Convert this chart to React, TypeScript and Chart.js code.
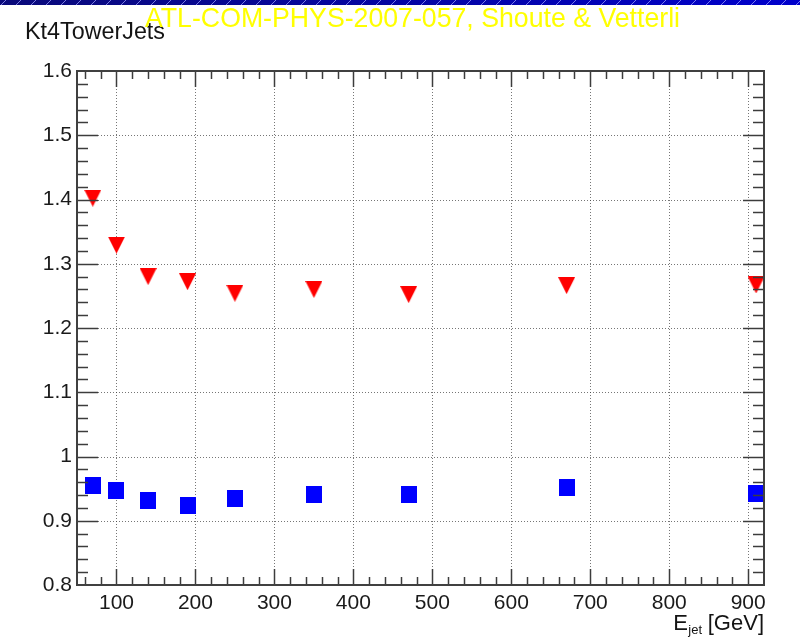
import { useEffect, useRef } from "react";
import { Chart, registerables } from "chart.js";

Chart.register(...registerables);

// Jet energy (GeV) and response for the two samples
const energies = [70, 100, 140, 190, 250, 350, 470, 670, 910];
const responseRed = [1.402, 1.329, 1.28, 1.272, 1.254, 1.26, 1.252, 1.266, 1.267];
const responseBlue = [0.955, 0.947, 0.932, 0.923, 0.935, 0.941, 0.941, 0.951, 0.942];

const xRange = [50, 920];
const yRange = [0.8, 1.6];
const xTickValues = [100, 200, 300, 400, 500, 600, 700, 800, 900];
const xTickLabels = ["100", "200", "300", "400", "500", "600", "700", "800", "900"];
const yTickValues = [0.8, 0.9, 1.0, 1.1, 1.2, 1.3, 1.4, 1.5, 1.6];
const yTickLabels = ["0.8", "0.9", "1", "1.1", "1.2", "1.3", "1.4", "1.5", "1.6"];

const titleText = "ATL-COM-PHYS-2007-057, Shoute & Vetterli";
const collectionText = "Kt4TowerJets";

const FONT = "'Liberation Sans', Arial, Helvetica, sans-serif";

function makeTriangleDown(w: number, h: number, color: string) {
  const c = document.createElement("canvas");
  c.width = w;
  c.height = h;
  const g = c.getContext("2d")!;
  g.fillStyle = color;
  g.beginPath();
  g.moveTo(0, 0);
  g.lineTo(w, 0);
  g.lineTo(w / 2, h);
  g.closePath();
  g.fill();
  return c;
}

function makeSquare(w: number, h: number, color: string) {
  const c = document.createElement("canvas");
  c.width = w;
  c.height = h;
  const g = c.getContext("2d")!;
  g.fillStyle = color;
  g.fillRect(0, 0, w, h);
  return c;
}

function line(ctx: CanvasRenderingContext2D, x1: number, y1: number, x2: number, y2: number) {
  ctx.beginPath();
  ctx.moveTo(x1, y1);
  ctx.lineTo(x2, y2);
  ctx.stroke();
}

function fitText(ctx: CanvasRenderingContext2D, text: string, x: number, y: number, width: number) {
  const w = ctx.measureText(text).width;
  ctx.save();
  ctx.translate(x, y);
  ctx.scale(width / w, 1);
  ctx.fillText(text, 0, 0);
  ctx.restore();
}

const rootFrame = {
  id: "rootFrame",
  beforeDraw(chart: any) {
    const ctx: CanvasRenderingContext2D = chart.ctx;
    ctx.save();
    ctx.fillStyle = "#ffffff";
    ctx.fillRect(0, 0, chart.width, chart.height);
    // striped banner along the top edge
    const grad = ctx.createLinearGradient(0, 0, chart.width, 0);
    grad.addColorStop(0, "#0a0a7a");
    grad.addColorStop(1, "#0000cc");
    ctx.fillStyle = grad;
    ctx.fillRect(0, 0, chart.width, 5);
    ctx.strokeStyle = "rgba(160,160,255,0.75)";
    ctx.lineWidth = 1;
    for (let x = 4; x < chart.width + 10; x += 15) {
      line(ctx, x - 3, 5, x + 2, 0);
    }
    ctx.restore();
  },
  beforeDatasetsDraw(chart: any) {
    const ctx: CanvasRenderingContext2D = chart.ctx;
    const { left, right, top, bottom } = chart.chartArea;
    const xs = chart.scales.x;
    const ys = chart.scales.y;
    ctx.save();
    ctx.setLineDash([1, 2]);
    ctx.strokeStyle = "rgba(60,60,60,0.7)";
    ctx.lineWidth = 1;
    xTickValues.forEach((v) => {
      const px = Math.round(xs.getPixelForValue(v)) + 0.5;
      line(ctx, px, top, px, bottom);
    });
    yTickValues.forEach((v) => {
      if (v <= yRange[0] || v >= yRange[1]) return;
      const py = Math.round(ys.getPixelForValue(v)) + 0.5;
      line(ctx, left, py, right, py);
    });
    ctx.restore();
  },
  afterDatasetsDraw(chart: any) {
    const ctx: CanvasRenderingContext2D = chart.ctx;
    const { left, right, top, bottom } = chart.chartArea;
    const xs = chart.scales.x;
    const ys = chart.scales.y;
    ctx.save();
    ctx.strokeStyle = "#3c3c3c";
    ctx.lineWidth = 1.5;
    // x ticks every 20 GeV, major every 100
    for (let v = 60; v < xRange[1]; v += 20) {
      const major = v % 100 === 0;
      const len = major ? 16 : 8;
      const px = Math.round(xs.getPixelForValue(v)) + 0.5;
      line(ctx, px, bottom, px, bottom - len);
      line(ctx, px, top, px, top + len);
    }
    // y ticks every 0.02, major every 0.1
    for (let i = 1; i < 40; i++) {
      const v = yRange[0] + i * 0.02;
      const major = i % 5 === 0;
      const len = major ? 21 : 11;
      const py = Math.round(ys.getPixelForValue(v)) + 0.5;
      line(ctx, left, py, left + len, py);
      line(ctx, right, py, right - len, py);
    }
    ctx.lineWidth = 2;
    ctx.strokeStyle = "#404040";
    ctx.strokeRect(left, top, right - left, bottom - top);
    ctx.restore();
  },
  afterDraw(chart: any) {
    const ctx: CanvasRenderingContext2D = chart.ctx;
    const right = chart.chartArea.right;
    ctx.save();
    ctx.textBaseline = "alphabetic";
    ctx.textAlign = "left";
    ctx.fillStyle = "#141414";
    ctx.font = `23px ${FONT}`;
    fitText(ctx, collectionText, 25, 39, 140);
    ctx.fillStyle = "#ffff00";
    ctx.font = `28px ${FONT}`;
    fitText(ctx, titleText, 145, 27, 535);

    // axis title: E_jet [GeV]
    ctx.fillStyle = "#141414";
    ctx.font = `22px ${FONT}`;
    ctx.textAlign = "right";
    ctx.fillText("[GeV]", right, 630);
    ctx.font = `13px ${FONT}`;
    ctx.fillText("jet", 702, 634);
    ctx.font = `22px ${FONT}`;
    ctx.fillText("E", 688, 630);
    ctx.restore();
  },
};

export default function App() {
  const canvasRef = useRef<HTMLCanvasElement | null>(null);

  useEffect(() => {
    const canvas = canvasRef.current;
    if (!canvas) return;
    const triangle = makeTriangleDown(17, 17, "#ff0000");
    const square = makeSquare(16, 17, "#0000ff");

    const chart = new Chart(canvas, {
      type: "scatter",
      data: {
        datasets: [
          {
            label: "red",
            data: energies.map((e, i) => ({ x: e, y: responseRed[i] })),
            pointStyle: triangle as any,
            backgroundColor: "#ff0000",
            showLine: false,
          },
          {
            label: "blue",
            data: energies.map((e, i) => ({ x: e, y: responseBlue[i] })),
            pointStyle: square as any,
            backgroundColor: "#0000ff",
            showLine: false,
          },
        ],
      },
      options: {
        animation: false,
        responsive: false,
        devicePixelRatio: 1,
        layout: { padding: { left: 0, top: 71, right: 36, bottom: 0 } },
        plugins: {
          legend: { display: false },
          tooltip: { enabled: false },
          title: { display: false },
        },
        events: [],
        scales: {
          x: {
            type: "linear",
            min: xRange[0],
            max: xRange[1],
            grid: { display: false },
            border: { display: false },
            afterBuildTicks: (s: any) => {
              s.ticks = xTickValues.map((v) => ({ value: v }));
            },
            afterFit: (s: any) => {
              s.height = 57;
            },
            ticks: {
              autoSkip: false,
              maxRotation: 0,
              padding: -2,
              color: "#1a1a1a",
              font: { family: FONT, size: 21 },
              callback: (v: any) => {
                const i = xTickValues.indexOf(Number(v));
                return i >= 0 ? xTickLabels[i] : "";
              },
            },
          },
          y: {
            type: "linear",
            min: yRange[0],
            max: yRange[1],
            grid: { display: false, drawTicks: false },
            border: { display: false },
            afterBuildTicks: (s: any) => {
              s.ticks = yTickValues.map((v) => ({ value: v }));
            },
            afterFit: (s: any) => {
              s.width = 77;
            },
            ticks: {
              autoSkip: false,
              padding: 5,
              color: "#1a1a1a",
              font: { family: FONT, size: 21 },
              callback: (v: any) => {
                const i = yTickValues.findIndex((t) => Math.abs(t - Number(v)) < 1e-6);
                return i >= 0 ? yTickLabels[i] : "";
              },
            },
          },
        },
      },
      plugins: [rootFrame],
    });
    return () => chart.destroy();
  }, []);

  return (
    <div style={{ position: "fixed", left: 0, top: 0, width: 800, height: 642, background: "#fff" }}>
      <canvas ref={canvasRef} width={800} height={642} style={{ display: "block" }} />
    </div>
  );
}
